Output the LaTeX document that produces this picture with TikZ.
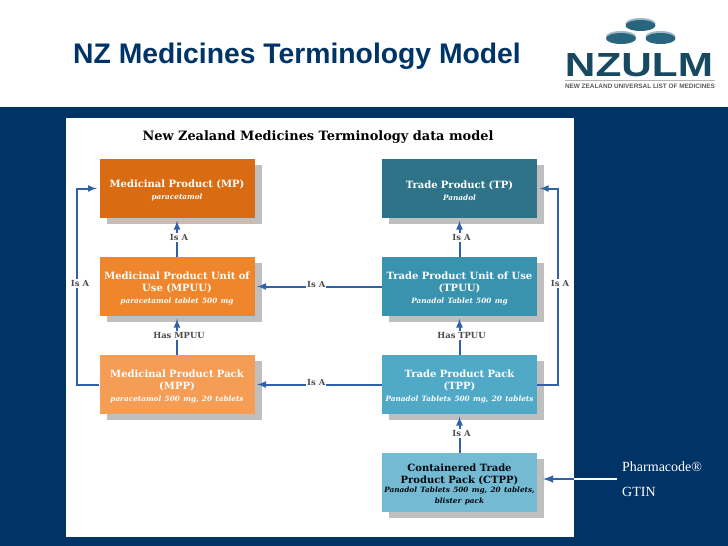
\documentclass[tikz,border=0pt]{standalone}
\usepackage{fontspec}
\setmainfont{DejaVu Serif}
\newfontfamily\headfont{Liberation Sans}
\newfontfamily\sidefont{Liberation Serif}
\usepackage{tikz}
\usetikzlibrary{shapes.geometric, shadows}
\definecolor{navy}{HTML}{003366}
\definecolor{mpcol}{HTML}{D96C13}
\definecolor{mpuucol}{HTML}{EF862B}
\definecolor{mppcol}{HTML}{F59C55}
\definecolor{tpcol}{HTML}{2F7389}
\definecolor{tpuucol}{HTML}{3A93AE}
\definecolor{tppcol}{HTML}{50AAC7}
\definecolor{ctppcol}{HTML}{75BAD3}
\definecolor{linkcol}{HTML}{2F62A8}
\definecolor{logocol}{HTML}{174A60}
\definecolor{pillcol}{HTML}{2A6580}
\newcommand{\subtxt}[1]{\\[-0.5pt]{\fontsize{7.3}{9}\selectfont\itshape #1}}
\tikzset{
    medbox/.style={fill=#1, text=white, minimum width=155pt, minimum height=59pt,
        inner sep=1pt, text width=152pt, align=center,
        font=\fontsize{10}{12.5}\selectfont\bfseries,
        execute at begin node={\rule{0pt}{11.5pt}},
        drop shadow={shadow xshift=7pt, shadow yshift=-6pt, fill=black!25, opacity=1}},
    link/.style={->, >=latex, linkcol, line width=2pt, shorten >=2.5pt},
    linklabel/.style={fill=white, inner sep=1pt, text=black!70,
        font=\fontsize{8.4}{9}\selectfont\bfseries},
    pill/.style={ellipse, fill=pillcol, minimum width=30pt, minimum height=11pt, inner sep=0pt},
    glow/.style={pillcol!45},
}
\begin{document}
\begin{tikzpicture}[x=1pt, y=-1pt]
    \useasboundingbox (0,0) rectangle (728,546);
    \fill[navy] (0,107) rectangle (728,546);
    \fill[white] (66,118) rectangle (574,537);
    \node[anchor=west, inner sep=0pt, text=navy, font=\headfont\fontsize{28.3}{32}\selectfont\bfseries] (slidetitle) at (73,56) {NZ Medicines Terminology Model};
    \fill[glow] (640.5,23.5) ellipse (15 and 5.5);
    \fill[glow] (621,36.5) ellipse (15 and 5.5);
    \fill[glow] (660.5,36.5) ellipse (15 and 5.5);
    \node[pill] (pilltop) at (640.5,25.5) {};
    \node[pill] (pillleft) at (621,38.5) {};
    \node[pill] (pillright) at (660.5,38.5) {};
    \node[inner sep=0pt, text=logocol, font=\headfont\bfseries] (logoname) at (639,65) {\resizebox{148pt}{23pt}{NZULM}};
    \draw[black!30, line width=0.5pt] (565,80.5) -- (715,80.5);
    \node[inner sep=0pt, text=black!65, font=\headfont\bfseries] (logosub) at (640,86) {\resizebox{150pt}{!}{NEW ZEALAND UNIVERSAL LIST OF MEDICINES}};
    \node[inner sep=0pt, font=\fontsize{12.9}{15}\selectfont\bfseries] (charttitle) at (318,137) {New Zealand Medicines Terminology data model};

    \node[medbox=mpcol] (mp) at (177,188.5) {Medicinal Product (MP)\subtxt{paracetamol}};
    \node[medbox=mpuucol] (mpuu) at (177,286.5) {Medicinal Product Unit of\\Use (MPUU)\subtxt{paracetamol tablet 500 mg}};
    \node[medbox=mppcol] (mpp) at (177,384.5) {Medicinal Product Pack\\(MPP)\subtxt{paracetamol 500 mg, 20 tablets}};
    \node[medbox=tpcol] (tp) at (459.5,188.5) {Trade Product (TP)\subtxt{Panadol}};
    \node[medbox=tpuucol] (tpuu) at (459.5,286.5) {Trade Product Unit of Use\\(TPUU)\subtxt{Panadol Tablet 500 mg}};
    \node[medbox=tppcol] (tpp) at (459.5,384.5) {Trade Product Pack\\(TPP)\subtxt{Panadol Tablets 500 mg, 20 tablets}};
    \node[medbox=ctppcol, text=black!85!navy] (ctpp) at (459.5,482.5) {Containered Trade\\Product Pack (CTPP)\subtxt{Panadol Tablets 500 mg, 20 tablets,\\[-1pt] blister pack}};

    \draw[link] (mpuu) -- node[linklabel, xshift=2pt] (isa1) {Is A} (mp);
    \draw[link] (mpp) -- node[linklabel, xshift=2pt] (hasmpuu) {Has MPUU} (mpuu);
    \draw[link] (tpuu) -- node[linklabel, xshift=2pt] (isa2) {Is A} (tp);
    \draw[link] (tpp) -- node[linklabel, xshift=2pt] (hastpuu) {Has TPUU} (tpuu);
    \draw[link] (ctpp) -- node[linklabel, xshift=2pt] (isa3) {Is A} (tpp);
    \draw[link] (tpuu) -- node[linklabel, xshift=-2pt, yshift=2pt] (isa4) {Is A} (mpuu);
    \draw[link] (tpp) -- node[linklabel, xshift=-2pt, yshift=2pt] (isa5) {Is A} (mpp);

    \coordinate (leftlow) at (77,384.5);
    \coordinate (lefthigh) at (77,188.5);
    \coordinate (rightlow) at (558,384.5);
    \coordinate (righthigh) at (558,188.5);
    \draw[link] (mpp) -- (leftlow) -- node[linklabel, xshift=3pt, yshift=3pt] (isa6) {Is A} (lefthigh) -- (mp);
    \draw[link] (tpp) -- (rightlow) -- node[linklabel, xshift=2pt, yshift=3pt] (isa7) {Is A} (righthigh) -- (tp);

    \node[anchor=west, inner sep=0pt, text=white, font=\sidefont\fontsize{14}{16}\selectfont] (pharma) at (622,467) {Pharmacode®};
    \node[anchor=west, inner sep=0pt, text=white, font=\sidefont\fontsize{14}{16}\selectfont] (gtin) at (622,492) {GTIN};
    \coordinate (pharmaend) at (617,479);
    \coordinate (paneledge) at (574,479);
    \coordinate (ctppedge) at (537,479);
    \draw[white, line width=2.4pt] (pharmaend) -- (paneledge);
    \draw[link, shorten >=6pt, line width=2.4pt] (paneledge) -- (ctppedge);
\end{tikzpicture}
\end{document}
